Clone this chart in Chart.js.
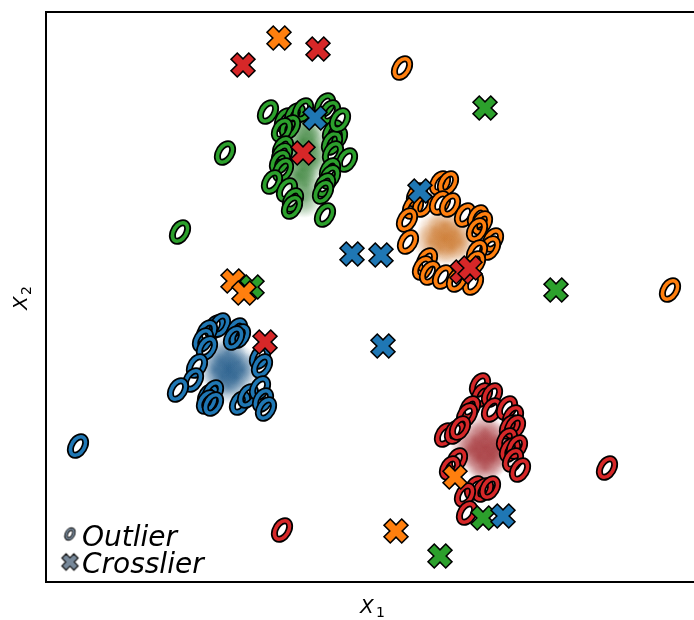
<!DOCTYPE html>
<html>
<head>
<meta charset="utf-8">
<script src="https://cdn.jsdelivr.net/npm/chart.js@4/dist/chart.umd.min.js"></script>
<style>
  html, body { margin: 0; padding: 0; background: #fff; }
</style>
</head>
<body>
<canvas id="chart" width="694" height="620"></canvas>
<script>
// colores de las clases (tab10)
const classColors = ['#1f77b4', '#ff7f0e', '#2ca02c', '#d62728'];
const blobCores = ['20,80,130', '200,110,30', '25,110,25', '150,20,25'];
const legendGray = '#778899';

// nubes densas de cada clase (centro aproximado)
const blobBlue = [[182,214],[174,222],[192,220],[176,204],[190,204],[169,212],[196,212],[182,230],[182,196]];
const blobOrange = [[399,344],[389,352],[409,350],[394,334],[406,334],[384,340],[414,340],[399,357]];
const blobGreen = [[259,457],[257,442],[261,427],[256,412],[260,397],[258,382],[249,432],[269,422],[252,407],[266,442]];
const blobRed = [[439,134],[429,142],[449,142],[432,124],[448,124],[439,152],[439,114],[422,132],[456,132]];

// outliers (anillos)
const outBlue = [[169,255],[174,257],[161,250],[157,242],[161,234],[191,252],[194,246],[188,244],[214,225],[216,216],
  [151,216],[147,202],[132,192],[162,186],[167,190],[161,180],[167,178],[194,179],[202,186],[214,194],[217,182],[220,173],[32,136]];
const outOrange = [[394,399],[402,399],[371,387],[367,375],[377,377],[394,379],[404,377],[419,367],[432,365],[436,359],
  [431,352],[447,342],[444,334],[361,362],[362,340],[381,322],[377,314],[384,309],[397,305],[431,330],[429,319],[427,299],
  [411,302],[356,514],[624,292]];
const outGreen = [[222,470],[239,462],[249,467],[257,472],[279,477],[284,470],[244,455],[236,452],[287,450],[291,444],
  [286,439],[287,429],[237,434],[236,427],[234,420],[237,412],[301,422],[284,412],[284,405],[279,397],[277,390],[226,400],
  [241,392],[247,382],[279,367],[246,375],[179,429],[134,350],[294,462]];
const outRed = [[434,197],[436,187],[446,187],[424,174],[421,167],[446,172],[461,174],[467,165],[464,155],[469,155],
  [461,142],[464,132],[471,135],[467,122],[474,112],[399,147],[409,150],[414,154],[411,122],[404,114],[429,94],[437,92],
  [444,94],[419,87],[421,69],[561,114],[236,52]];

// crossliers (cruces)
const crossBlue = [[269,464],[374,391],[306,328],[335,327],[337,236],[457,66]];
const crossOrange = [[233,544],[187,301],[198,289],[409,105],[350,51]];
const crossGreen = [[439,474],[206,295],[510,292],[437,64],[394,26]];
const crossRed = [[272,533],[197,517],[257,429],[416,310],[424,314],[219,240]];

const legendLabels = ['Outlier', 'Crosslier'];

// anillo tipo "O" en cursiva
function ringImage(color, s) {
    const c = document.createElement('canvas');
    c.width = c.height = Math.ceil(36 * s);
    const ctx = c.getContext('2d');
    ctx.translate(c.width / 2, c.height / 2);
    ctx.save();
    ctx.transform(1, 0, -0.32, 1, 0, 0);
    ctx.beginPath();
    ctx.ellipse(0, 0, 7 * s, 9.3 * s, 0, 0, Math.PI * 2);
    ctx.restore();
    ctx.strokeStyle = '#000';
    ctx.lineWidth = 7 * s;
    ctx.stroke();
    ctx.strokeStyle = color;
    ctx.lineWidth = 3.6 * s;
    ctx.stroke();
    return c;
}

function crossImage(color, s) {
    const c = document.createElement('canvas');
    c.width = c.height = Math.ceil(30 * s);
    const ctx = c.getContext('2d');
    ctx.translate(c.width / 2, c.height / 2);
    ctx.rotate(Math.PI / 4);
    const L = 12.5 * s, w = 4.4 * s;
    const pts = [[-w,-L],[w,-L],[w,-w],[L,-w],[L,w],[w,w],[w,L],[-w,L],[-w,w],[-L,w],[-L,-w],[-w,-w]];
    ctx.beginPath();
    pts.forEach((p, i) => i ? ctx.lineTo(p[0], p[1]) : ctx.moveTo(p[0], p[1]));
    ctx.closePath();
    ctx.fillStyle = color;
    ctx.fill();
    ctx.strokeStyle = '#000';
    ctx.lineWidth = 1.6 * s;
    ctx.lineJoin = 'miter';
    ctx.stroke();
    return c;
}

function blobImage(core) {
    const c = document.createElement('canvas');
    c.width = c.height = 36;
    const ctx = c.getContext('2d');
    const g = ctx.createRadialGradient(18, 18, 0, 18, 18, 18);
    g.addColorStop(0, 'rgba(' + core + ',0.5)');
    g.addColorStop(0.5, 'rgba(' + core + ',0.3)');
    g.addColorStop(1, 'rgba(' + core + ',0)');
    ctx.fillStyle = g;
    ctx.fillRect(0, 0, 36, 36);
    return c;
}

const toPts = arr => arr.map(p => ({ x: p[0], y: p[1] }));

const blobs = [blobBlue, blobOrange, blobGreen, blobRed];
const outs = [outBlue, outOrange, outGreen, outRed];
const crosses = [crossBlue, crossOrange, crossGreen, crossRed];

const datasets = [];
classColors.forEach((col, i) => {
    datasets.push({ data: toPts(blobs[i]), pointStyle: blobImage(blobCores[i]), pointRadius: 18, order: 3 });
    datasets.push({ data: toPts(outs[i]), pointStyle: ringImage(col, 1), pointRadius: 10, order: 2 });
    datasets.push({ data: toPts(crosses[i]), pointStyle: crossImage(col, 1), pointRadius: 12, order: 1 });
});

const decorPlugin = {
    id: 'decor',
    afterDatasetsDraw(chart) {
        const ctx = chart.ctx;
        const a = chart.chartArea;
        ctx.save();
        // marco
        ctx.strokeStyle = '#000';
        ctx.lineWidth = 2;
        ctx.beginPath();
        ctx.moveTo(a.right + 2, a.top);
        ctx.lineTo(a.left, a.top);
        ctx.lineTo(a.left, a.bottom);
        ctx.lineTo(a.right + 2, a.bottom);
        ctx.stroke();

        // leyenda
        const r = ringImage(legendGray, 0.52);
        const x = crossImage(legendGray, 0.68);
        ctx.drawImage(r, 70 - r.width / 2, 534 - r.height / 2);
        ctx.drawImage(x, 70 - x.width / 2, 562 - x.height / 2);
        ctx.fillStyle = '#000';
        ctx.font = 'italic 28px "DejaVu Sans"';
        ctx.textBaseline = 'alphabetic';
        ctx.fillText(legendLabels[0], 82, 546);
        ctx.fillText(legendLabels[1], 82, 573);

        // títulos de ejes
        ctx.font = 'italic 20px "DejaVu Sans"';
        ctx.fillText('X', 360, 613);
        ctx.font = '14px "DejaVu Sans"';
        ctx.fillText('1', 376, 617);

        ctx.translate(27, 310);
        ctx.rotate(-Math.PI / 2);
        ctx.font = 'italic 20px "DejaVu Sans"';
        ctx.fillText('X', 0, 0);
        ctx.font = '14px "DejaVu Sans"';
        ctx.fillText('2', 15, 4);
        ctx.restore();
    }
};

new Chart(document.getElementById('chart'), {
    type: 'scatter',
    data: { datasets: datasets },
    options: {
        responsive: false,
        animation: false,
        layout: { autoPadding: false, padding: { top: 12, left: 0, right: 0, bottom: 0 } },
        scales: {
            x: {
                min: 0, max: 648,
                ticks: { display: false },
                grid: { display: false },
                border: { display: false },
                afterFit: s => { s.height = 38; }
            },
            y: {
                min: 0, max: 570,
                ticks: { display: false },
                grid: { display: false },
                border: { display: false },
                afterFit: s => { s.width = 46; }
            }
        },
        plugins: {
            legend: { display: false },
            tooltip: { enabled: false }
        }
    },
    plugins: [decorPlugin]
});
</script>
</body>
</html>
